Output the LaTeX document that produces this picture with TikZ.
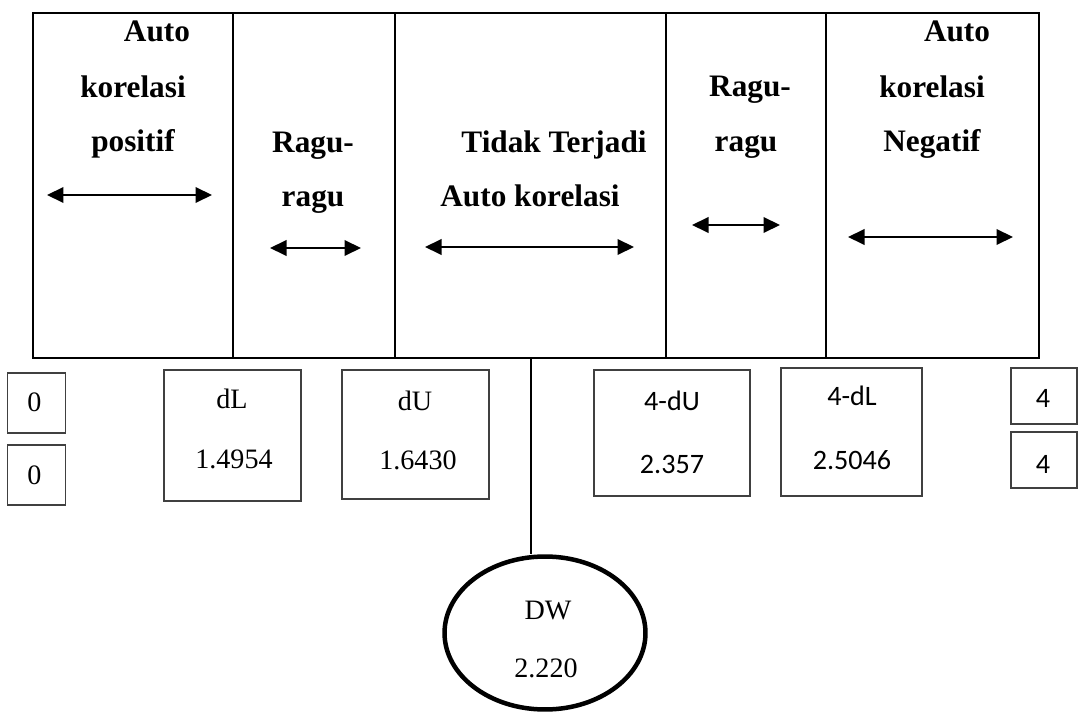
\documentclass[tikz,border=0pt]{standalone}
\usepackage{fontspec}
\setmainfont{Liberation Serif}
\newfontfamily\calibri{Carlito}
\usetikzlibrary{arrows.meta,shapes.geometric}

\begin{document}
\begin{tikzpicture}[
      x=0.02cm, y=-0.02cm,
      >={Triangle[length=0.33cm, width=0.31cm]},
      hdr/.style={anchor=base, inner sep=0pt, font=\fontsize{17.8}{20}\selectfont\bfseries},
      val/.style={anchor=base, inner sep=0pt, font=\fontsize{16}{18}\selectfont},
      valc/.style={anchor=base, inner sep=0pt, font=\fontsize{16}{18}\selectfont\calibri},
      vbox/.style={draw=black!75, line width=0.6pt, inner sep=0pt},
      rule/.style={line width=0.04cm},
      span/.style={<->, line width=0.04cm},
    ]
    \useasboundingbox (0,0) rectangle (1081,712);

    % ---------- bingkai daerah keputusan ----------
    \node[draw, rule, minimum width=20.12cm, minimum height=6.9cm, inner sep=0pt]
      (frame) at (536,185.5) {};
    \foreach \x in {233,395,666,826}
      \draw[rule] (\x,13) -- (\x,358);

    % judul tiap daerah
    \node[hdr] (posA) at (157,42)  {Auto};
    \node[hdr] (posB) at (133,98)  {korelasi};
    \node[hdr] (posC) at (133,152) {positif};

    \node[hdr] (rgLA) at (313,153) {Ragu-};
    \node[hdr] (rgLB) at (313,207) {ragu};

    \node[hdr] (noneA) at (554,153) {Tidak Terjadi};
    \node[hdr] (noneB) at (530,207) {Auto korelasi};

    \node[hdr] (rgRA) at (750,97)  {Ragu-};
    \node[hdr] (rgRB) at (746,152) {ragu};

    \node[hdr] (negA) at (957,42)  {Auto};
    \node[hdr] (negB) at (932,98)  {korelasi};
    \node[hdr] (negC) at (932,152) {Negatif};

    % panah rentang
    \foreach \a/\b/\y in {47/212/195, 270/361/248, 425/634/247, 692/780/225, 848/1013/237}
      \draw[span] (\a,\y) -- (\b,\y);

    % ---------- kotak nilai batas ----------
    \node[vbox, minimum width=1.16cm, minimum height=1.2cm]  (zeroA) at (36.5,403) {};
    \node[vbox, minimum width=1.16cm, minimum height=1.2cm]  (zeroB) at (36.5,475) {};
    \node[vbox, minimum width=2.74cm, minimum height=2.62cm] (dL)    at (232.5,435.5) {};
    \node[vbox, minimum width=2.94cm, minimum height=2.58cm] (dU)    at (415.5,434.5) {};
    \node[vbox, minimum width=3.12cm, minimum height=2.52cm] (fdU)   at (672,433) {};
    \node[vbox, minimum width=2.82cm, minimum height=2.56cm] (fdL)   at (851.5,432) {};
    \node[vbox, minimum width=1.32cm, minimum height=1.12cm] (fourA) at (1044,396) {};
    \node[vbox, minimum width=1.32cm, minimum height=1.12cm] (fourB) at (1044,460) {};

    \node[val] (zeroAt) at (34.5,412) {0};
    \node[val] (zeroBt) at (34.5,484) {0};
    \node[val] (dLname) at (232,409) {dL};
    \node[val] (dLval)  at (234,468) {1.4954};
    \node[val] (dUname) at (415,411) {dU};
    \node[val] (dUval)  at (418,469) {1.6430};
    \node[valc] (fdUname) at (672,411) {4-dU};
    \node[valc] (fdUval)  at (672,473) {2.357};
    \node[valc] (fdLname) at (852,406) {4-dL};
    \node[valc] (fdLval)  at (852,469) {2.5046};
    \node[valc] (fourAt) at (1043,408) {4};
    \node[valc] (fourBt) at (1043,473) {4};

    % ---------- nilai DW ----------
    \node[draw, ellipse, line width=0.09cm, minimum width=4.02cm, minimum height=3.06cm,
          inner sep=0pt] (dw) at (545,633) {};
    \node[val] (dwname) at (548,619) {DW};
    \node[val] (dwval)  at (546,677) {2.220};

    \coordinate (tap) at (531,358);
    \draw[rule] (tap) -- (tap |- dw.north);

  \end{tikzpicture}
\end{document}
